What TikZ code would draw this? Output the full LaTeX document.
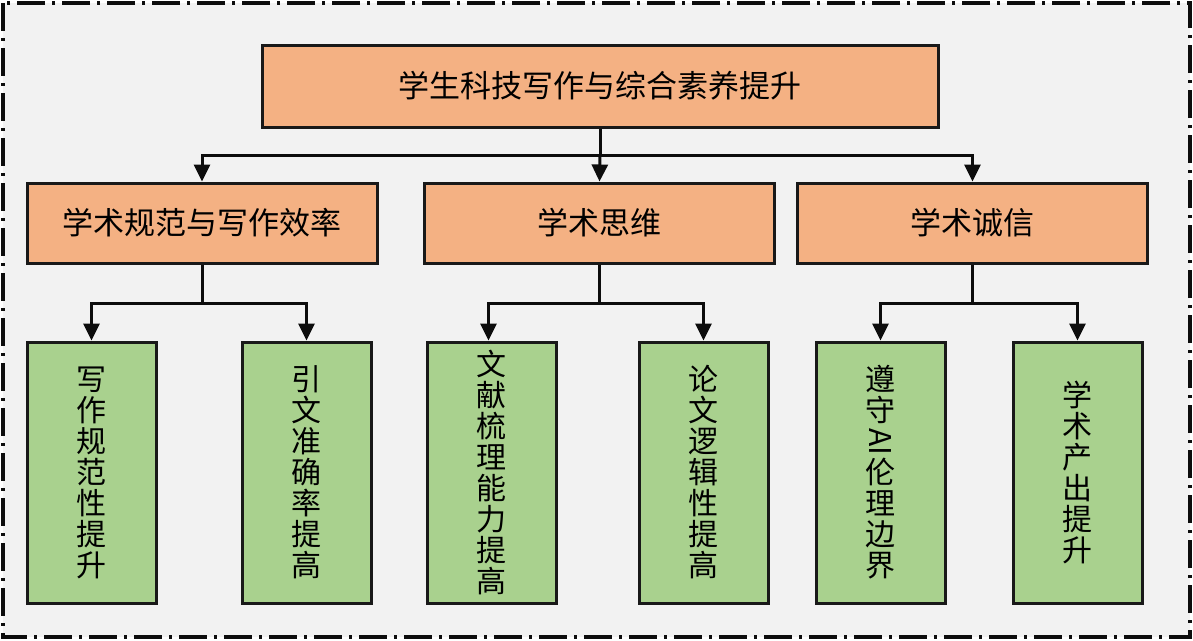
\documentclass[tikz,border=0pt]{standalone}
\usepackage{fontspec}
\usepackage{graphicx}
\newfontfamily\cjk{Noto Sans CJK SC}
\usetikzlibrary{arrows.meta}
\definecolor{bgc}{HTML}{F2F2F2}
\definecolor{orangec}{HTML}{F4B183}
\definecolor{greenc}{HTML}{A9D18E}
\newcommand{\rotAI}{\rotatebox[origin=c]{-90}{AI}}
\tikzset{
  boxbase/.style={draw=black!90, line width=3pt, inner sep=0pt, font=\cjk\fontsize{31}{31}\selectfont},
  topbox/.style={boxbase, fill=orangec, minimum width=676pt, minimum height=82pt},
  midbox/.style={boxbase, fill=orangec, minimum width=350pt, minimum height=80pt},
  leafbox/.style={boxbase, fill=greenc, minimum width=129pt, minimum height=261pt, align=center, font=\cjk\fontsize{30}{31}\selectfont},
  conn/.style={draw=black!95, line width=3pt},
  arr/.style={conn, -{Triangle[length=17pt,width=16pt]}},
  frame/.style={line width=3.5pt, draw=black!95, fill=bgc, dash pattern=on 28pt off 7pt on 3pt off 7pt}
}
\begin{document}
\begin{tikzpicture}[x=1pt,y=-1pt]
\useasboundingbox (0,0) rectangle (1193,640);
\fill[white] (0,0) rectangle (1193,640);
\draw[frame] (3,3) rectangle (1190,637);

\node[topbox] (top) at (600,86) {学生科技写作与综合素养提升};

\node[midbox] (m1) at (202,223) {学术规范与写作效率};
\node[midbox] (m2) at (599.5,223) {学术思维};
\node[midbox] (m3) at (972.5,223) {学术诚信};

\node[leafbox] (l1) at (91.5,472.5) {写\\作\\规\\范\\性\\提\\升};
\node[leafbox] (l2) at (306.5,472.5) {引\\文\\准\\确\\率\\提\\高};
\node[leafbox] (l3) at (491.5,472.5) {文\\献\\梳\\理\\能\\力\\提\\高};
\node[leafbox] (l4) at (703.5,472.5) {论\\文\\逻\\辑\\性\\提\\高};
\node[leafbox] (l5) at (880.5,472.5) {遵\\守\\\rotAI\\伦\\理\\边\\界};
\node[leafbox] (l6) at (1077.5,472.5) {学\\术\\产\\出\\提\\升};

% level 1 -> level 2
\coordinate (j0) at (600,155);
\draw[conn] (top.south) -- (j0);
\draw[arr] (j0) -| (m1.north);
\draw[arr] (j0) -- (m2.north);
\draw[arr] (j0) -| (m3.north);

% level 2 -> level 3
\coordinate (j1) at (202,303);
\coordinate (j2) at (599.5,303);
\coordinate (j3) at (972.5,303);
\draw[conn] (m1.south) -- (j1);
\draw[conn] (m2.south) -- (j2);
\draw[conn] (m3.south) -- (j3);
\draw[arr] (j1) -| (l1.north);
\draw[arr] (j1) -| (l2.north);
\draw[arr] (j2) -| ([xshift=-3pt]l3.north);
\draw[arr] (j2) -| (l4.north);
\draw[arr] (j3) -| (l5.north);
\draw[arr] (j3) -| (l6.north);
\end{tikzpicture}
\end{document}
